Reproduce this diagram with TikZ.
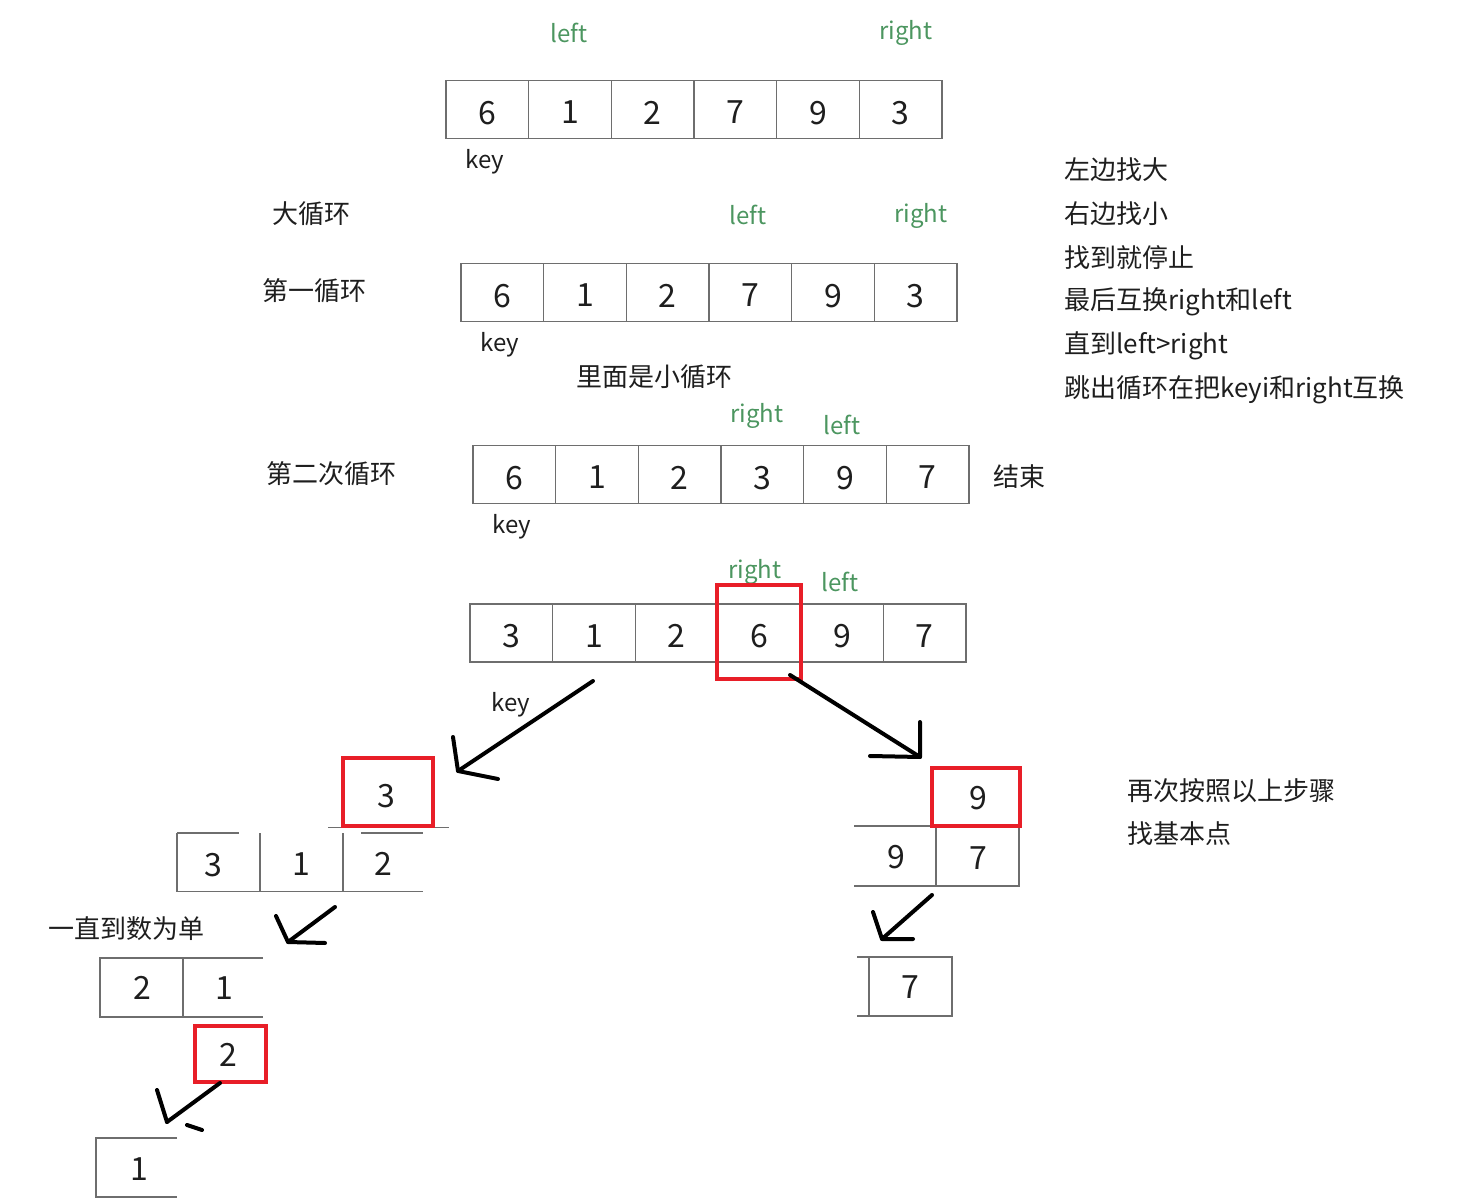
\documentclass[tikz,border=0pt]{standalone}
\usepackage{fontspec}
\setmainfont{Noto Sans CJK SC}
\definecolor{cellgray}{RGB}{110,110,110}
\definecolor{ptrgreen}{RGB}{76,150,96}
\definecolor{boxred}{RGB}{232,30,40}
\definecolor{ink}{RGB}{30,30,30}
\newcommand{\cellrow}[4]{%
  \foreach \v [count=\i] in {#4}
    \node[cell] (#1-\i) at ({#2+41.33+(\i-1)*82.67}, #3) {\raisebox{-1.5pt}[\height][0pt]{\v}};}
\begin{document}
\begin{tikzpicture}[x=0.5pt,y=-0.5pt,
  cell/.style={draw=cellgray, line width=0.75pt, minimum width=41.33pt, minimum height=28.8pt,
    inner sep=0pt, outer sep=0pt, text=ink, font=\fontsize{16}{18}\selectfont},
  num/.style={inner sep=0pt, text=ink, font=\fontsize{16}{18}\selectfont},
  ptr/.style={inner sep=0pt, text=ptrgreen, font=\fontsize{12}{14}\selectfont},
  lbl/.style={inner sep=0pt, text=ink, font=\fontsize{12}{14}\selectfont},
  cn/.style={inner sep=0pt, text=ink, font=\fontsize{13}{15}\selectfont},
  redbox/.style={draw=boxred, line width=2pt, inner sep=0pt, outer sep=0pt},
  pen/.style={draw=black, line width=2pt, line cap=round, line join=round},
  edgeline/.style={draw=cellgray, line width=0.75pt}]

\useasboundingbox (0,0) rectangle (1468,1203);

% ---------- row 1 ----------
\node[ptr] (l1) at (569,33) {left};
\node[ptr] (r1) at (906,33) {right};
\cellrow{A}{446}{109.5}{6,1,2,7,9,3}
\node[lbl] (k1) at (485,162) {key};

% ---------- left labels ----------
\node[cn] (big) at (311,214) {大循环};
\node[cn] (first) at (314,291) {第一循环};
\node[cn] (second) at (331,474) {第二次循环};

% ---------- row 2 ----------
\node[ptr] (l2) at (748,215) {left};
\node[ptr] (r2) at (921,216) {right};
\cellrow{B}{461}{292.5}{6,1,2,7,9,3}
\node[lbl] (k2) at (500,345) {key};
\node[cn] (inner) at (654,377) {里面是小循环};

% ---------- right notes ----------
\node[cn, anchor=west] (n1) at (1064,170) {左边找大};
\node[cn, anchor=west] (n2) at (1064,214) {右边找小};
\node[cn, anchor=west] (n3) at (1064,258) {找到就停止};
\node[cn, anchor=west] (n4) at (1064,302) {最后互换right和left};
\node[cn, anchor=west] (n5) at (1064,346) {直到left>right};
\node[cn, anchor=west] (n6) at (1064,390) {跳出循环在把keyi和right互换};

% ---------- row 3 ----------
\node[ptr] (r3) at (757,416) {right};
\node[ptr] (l3) at (842,425) {left};
\cellrow{C}{473}{474.5}{6,1,2,3,9,7}
\node[lbl] (k3) at (512,527) {key};
\node[cn] (end) at (1019,477) {结束};

% ---------- row 4 ----------
\node[ptr] (r4) at (755,572) {right};
\node[ptr] (l4) at (840,582) {left};
\cellrow{D}{470}{633}{3,1,2,6,9,7}
\node[lbl] (k4) at (511,705) {key};
\node[redbox, minimum width=42pt, minimum height=47pt] (pivot) at (759,632) {};

% ---------- notes right bottom ----------
\node[cn, anchor=west] (m1) at (1127,791) {再次按照以上步骤};
\node[cn, anchor=west] (m2) at (1127,834) {找基本点};

% ---------- arrows from row 4 ----------
\coordinate (a1s) at (593,681); \coordinate (a1e) at (458,771);
\coordinate (a1h) at (453,737); \coordinate (a1t) at (498,779);
\draw[pen] (a1s) -- (a1e);
\draw[pen] (a1h) -- (a1e) -- (a1t);

\coordinate (a2s) at (790,675); \coordinate (a2e) at (920,757);
\coordinate (a2h) at (920,722); \coordinate (a2t) at (870,756);
\draw[pen] (a2s) -- (a2e);
\draw[pen] (a2h) -- (a2e) -- (a2t);

% ---------- left subtree ----------
\draw[edgeline] (328,827.5) -- (449,827.5);
\node[redbox, minimum width=45pt, minimum height=34pt] (L3) at (388,792) {};
\node[num] (L3n) at (386,796) {3};
\draw[edgeline] (177,833) -- (239,833);
\draw[edgeline] (361,833) -- (423,833);
\draw[edgeline] (177,833) -- (177,891.5) -- (423,891.5);
\draw[edgeline] (260,833) -- (260,891.5);
\draw[edgeline] (343,833) -- (343,891.5);
\node[num] (E1) at (213,865) {3};
\node[num] (E2) at (301,864) {1};
\node[num] (E3) at (383,864) {2};

\coordinate (a3s) at (335,907); \coordinate (a3e) at (288,942);
\coordinate (a3h) at (276,916); \coordinate (a3t) at (325,943);
\draw[pen] (a3s) -- (a3e);
\draw[pen] (a3h) -- (a3e) -- (a3t);

\node[cn] (single) at (126,929) {一直到数为单};

\draw[edgeline] (263,958) -- (100,958) -- (100,1017) -- (263,1017);
\draw[edgeline] (183,958) -- (183,1017);
\node[num] (F1) at (142,988) {2};
\node[num] (F2) at (224,988) {1};

\node[redbox, minimum width=35.5pt, minimum height=28pt] (L2) at (230.5,1054) {};
\node[num] (L2n) at (228,1055) {2};

\coordinate (a4s) at (220,1083); \coordinate (a4e) at (167,1122);
\coordinate (a4h) at (157,1090);
\coordinate (a4u) at (187,1125); \coordinate (a4v) at (202,1130);
\draw[pen] (a4s) -- (a4e);
\draw[pen] (a4h) -- (a4e);
\draw[pen] (a4u) -- (a4v);

\draw[edgeline] (177,1138) -- (96,1138) -- (96,1197) -- (177,1197);
\node[num] (G1) at (139,1169) {1};

% ---------- right subtree ----------
\draw[edgeline] (854,826) -- (1019,826) -- (1019,886) -- (854,886);
\draw[edgeline] (936,826) -- (936,886);
\node[num] (H1) at (896,857) {9};
\node[num] (H2) at (978,858) {7};
\node[redbox, minimum width=44pt, minimum height=29pt] (R9) at (976,797) {};
\node[num] (R9n) at (978,798) {9};

\coordinate (a5s) at (932,895); \coordinate (a5e) at (882,939);
\coordinate (a5h) at (873,912); \coordinate (a5t) at (913,939);
\draw[pen] (a5s) -- (a5e);
\draw[pen] (a5h) -- (a5e) -- (a5t);

\draw[edgeline] (857,957) -- (952,957) -- (952,1016) -- (857,1016);
\draw[edgeline] (869,957) -- (869,1016);
\node[num] (J1) at (910,987) {7};

\end{tikzpicture}
\end{document}
